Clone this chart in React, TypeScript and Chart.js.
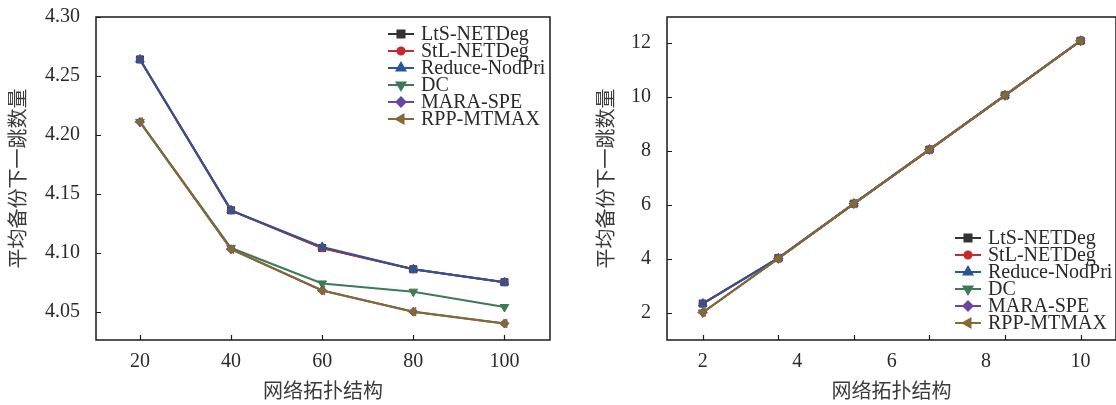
import React, { useEffect, useRef } from 'react';
import { Chart, registerables } from 'chart.js';
import { drawPoint } from 'chart.js/helpers';

Chart.register(...registerables);

// ---------- data ----------
const seriesNames = ['LtS-NETDeg', 'StL-NETDeg', 'Reduce-NodPri', 'DC', 'MARA-SPE', 'RPP-MTMAX'];

const leftX = [20, 40, 60, 80, 100];
const leftLtS = [4.264, 4.136, 4.104, 4.086, 4.075];
const leftStL = [4.264, 4.136, 4.104, 4.086, 4.075];
const leftReduce = [4.264, 4.136, 4.105, 4.086, 4.075];
const leftDC = [4.211, 4.104, 4.074, 4.067, 4.054];
const leftMARA = [4.211, 4.103, 4.068, 4.050, 4.040];
const leftRPP = [4.211, 4.103, 4.068, 4.050, 4.040];
const leftXTicks = [20, 40, 60, 80, 100];
const leftYTicks = [4.05, 4.1, 4.15, 4.2, 4.25, 4.3];

const rightX = [2, 3.6, 5.2, 6.8, 8.4, 10];
const rightLtS = [2.35, 4.03, 6.05, 8.05, 10.06, 12.08];
const rightStL = [2.35, 4.03, 6.05, 8.05, 10.06, 12.08];
const rightReduce = [2.35, 4.03, 6.05, 8.05, 10.06, 12.08];
const rightDC = [2.02, 4.02, 6.05, 8.05, 10.06, 12.08];
const rightMARA = [2.02, 4.02, 6.05, 8.05, 10.06, 12.08];
const rightRPP = [2.02, 4.02, 6.05, 8.05, 10.06, 12.08];
const rightXTicks = [2, 4, 6, 8, 10];
const rightYTicks = [2, 4, 6, 8, 10, 12];

const xTitle = '网络拓扑结构';
const yTitle = '平均备份下一跳数量';

// ---------- styles ----------
const seriesColors = ['#333333', '#c62a2f', '#2a5597', '#3d7a55', '#6b45a3', '#86692f'];
const pointStyles = ['rect', 'circle', 'triangle', 'triangle', 'rectRot', 'triangle'];
const pointRotations = [0, 0, 0, 180, 0, 270];
const pointRadii = [5, 3.6, 5, 5, 4.5, 5];

const serif = "'Liberation Serif', 'Times New Roman', serif";
const cjk = "'Liberation Serif', 'Noto Sans CJK SC', sans-serif";
const textColor = '#2a2a2a';
const titleColor = '#3a3a3a';

const framePlugin = {
  id: 'frameAndLegend',
  afterDraw(chart: any, _args: any, opts: any) {
    const { ctx, chartArea } = chart;
    const { left, top, right, bottom } = chartArea;
    const xs = chart.scales.x;
    const ys = chart.scales.y;
    ctx.save();
    // frame
    ctx.strokeStyle = '#1a1a1a';
    ctx.lineWidth = 1.5;
    ctx.strokeRect(left, top, right - left, bottom - top);
    // inward tick marks
    ctx.lineWidth = 1.2;
    ctx.beginPath();
    for (const v of opts.xMarks) {
      const px = Math.round(xs.getPixelForValue(v)) + 0.5;
      ctx.moveTo(px, bottom);
      ctx.lineTo(px, bottom - 5);
    }
    for (const v of opts.yMarks) {
      const py = Math.round(ys.getPixelForValue(v)) + 0.5;
      ctx.moveTo(left, py);
      ctx.lineTo(left + 5, py);
    }
    ctx.stroke();
    // legend
    const ds = chart.data.datasets;
    ctx.font = `20px ${serif}`;
    ctx.textBaseline = 'middle';
    ctx.textAlign = 'left';
    ds.forEach((d: any, i: number) => {
      const y = opts.legendY + i * opts.rowH;
      const x0 = opts.legendX;
      ctx.strokeStyle = d.borderColor;
      ctx.lineWidth = 2;
      ctx.beginPath();
      ctx.moveTo(x0, y);
      ctx.lineTo(x0 + opts.lineLen, y);
      ctx.stroke();
      ctx.fillStyle = d.pointBackgroundColor;
      ctx.strokeStyle = d.pointBorderColor;
      drawPoint(ctx, {
        pointStyle: d.pointStyle,
        rotation: d.pointRotation,
        radius: d.pointRadius,
        borderWidth: 1,
      }, x0 + opts.lineLen / 2, y);
      ctx.fillStyle = textColor;
      ctx.fillText(d.label, x0 + opts.lineLen + opts.textGap, y + 1);
    });
    ctx.restore();
  },
};

function makeDatasets(xs: number[], series: number[][]) {
  return series.map((vals, i) => ({
    label: seriesNames[i],
    data: vals.map((v, j) => ({ x: xs[j], y: v })),
    borderColor: seriesColors[i],
    backgroundColor: seriesColors[i],
    pointBackgroundColor: seriesColors[i],
    pointBorderColor: seriesColors[i],
    pointBorderWidth: 1,
    pointStyle: pointStyles[i],
    pointRotation: pointRotations[i],
    pointRadius: pointRadii[i],
    borderWidth: 2,
    tension: 0,
    order: series.length - i,
  }));
}

function makeConfig(p: any): any {
  return {
    type: 'line',
    data: { datasets: makeDatasets(p.xs, p.series) },
    plugins: [framePlugin],
    options: {
      animation: false,
      responsive: false,
      maintainAspectRatio: false,
      layout: { padding: { top: 17, right: p.padRight, left: 0, bottom: 0 } },
      plugins: {
        legend: { display: false },
        tooltip: { enabled: false },
        frameAndLegend: {
          xMarks: p.xMarks,
          yMarks: p.yTicks,
          legendX: p.legendX,
          legendY: p.legendY,
          rowH: 17,
          lineLen: 26,
          textGap: 7,
        },
      },
      scales: {
        x: {
          type: 'linear',
          min: p.xMin,
          max: p.xMax,
          grid: { display: false, drawTicks: false },
          border: { display: false },
          afterBuildTicks: (s: any) => { s.ticks = p.xTicks.map((v: number) => ({ value: v })); },
          afterFit: (s: any) => { s.height = 65; s.paddingLeft = 0; s.paddingRight = 0; },
          ticks: {
            padding: 10,
            maxRotation: 0,
            autoSkip: false,
            color: textColor,
            font: { family: serif, size: 20 },
            callback: (v: any) => String(v),
          },
          title: {
            display: true,
            text: xTitle,
            color: titleColor,
            font: { family: cjk, size: 20 },
            padding: { top: 0, bottom: 0 },
          },
        },
        y: {
          type: 'linear',
          min: p.yMin,
          max: p.yMax,
          grid: { display: false, drawTicks: false },
          border: { display: false },
          afterBuildTicks: (s: any) => { s.ticks = p.yTicks.map((v: number) => ({ value: v })); },
          afterFit: (s: any) => { s.width = p.yWidth; s.paddingTop = 0; s.paddingBottom = 0; },
          ticks: {
            padding: 16,
            autoSkip: false,
            color: textColor,
            font: { family: serif, size: 20 },
            callback: (v: any) => p.yFmt(v),
          },
          title: {
            display: true,
            text: yTitle,
            color: titleColor,
            font: { family: cjk, size: 20 },
            padding: { top: 8, bottom: 0 },
          },
        },
      },
    },
  };
}

function ChartCanvas({ config, width, height, left }: any) {
  const ref = useRef<HTMLCanvasElement | null>(null);
  useEffect(() => {
    if (!ref.current) return;
    const chart = new Chart(ref.current, config);
    return () => chart.destroy();
  }, []);
  return (
    <canvas
      ref={ref}
      width={width}
      height={height}
      style={{ position: 'absolute', left, top: 0, width, height }}
    />
  );
}

export default function App() {
  const leftConfig = makeConfig({
    xs: leftX,
    series: [leftLtS, leftStL, leftReduce, leftDC, leftMARA, leftRPP],
    xMin: 10.35, xMax: 110,
    yMin: 4.026, yMax: 4.3,
    xTicks: leftXTicks, xMarks: leftXTicks, yTicks: leftYTicks,
    yFmt: (v: number) => v.toFixed(2),
    yWidth: 96, padRight: 10,
    legendX: 388, legendY: 34,
  });
  const rightConfig = makeConfig({
    xs: rightX,
    series: [rightLtS, rightStL, rightReduce, rightDC, rightMARA, rightRPP],
    xMin: 1.243, xMax: 10.75,
    yMin: 1.0, yMax: 12.96,
    xTicks: rightXTicks, xMarks: rightX, yTicks: rightYTicks,
    yFmt: (v: number) => String(v),
    yWidth: 79, padRight: 3,
    legendX: 955 - 588, legendY: 238,
  });
  return (
    <div style={{ position: 'fixed', left: 0, top: 0, width: 1116, height: 405, overflow: 'hidden', background: '#fff' }}>
      <ChartCanvas config={leftConfig} width={560} height={405} left={0} />
      <ChartCanvas config={rightConfig} width={534} height={405} left={588} />
    </div>
  );
}
